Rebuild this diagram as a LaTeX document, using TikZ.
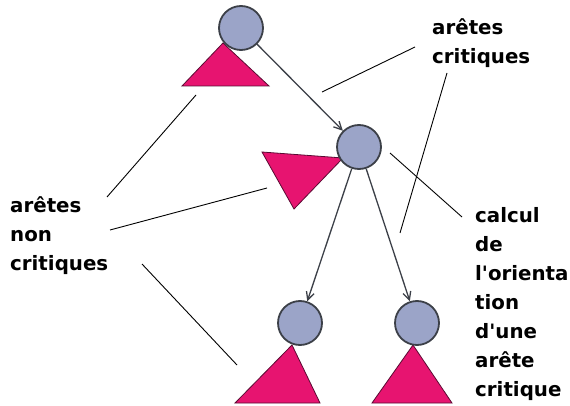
\documentclass[tikz,border=0pt]{standalone}
\usepackage{fontspec}
\setmainfont{DejaVu Sans}[Ligatures=TeXOff]
\usetikzlibrary{arrows.meta}
\definecolor{nodeblue}{RGB}{155,164,200}
\definecolor{nodeedge}{RGB}{60,64,72}
\definecolor{trifill}{RGB}{231,20,112}
\definecolor{triedge}{RGB}{90,10,50}
\begin{document}
\begin{tikzpicture}[x=1pt,y=-1pt,
  vertex/.style={circle,draw=nodeedge,line width=1.8pt,fill=nodeblue,minimum size=44pt,inner sep=0pt},
  subtree/.style={fill=trifill,draw=triedge,line width=0.8pt,line join=miter},
  edge/.style={draw=nodeedge,line width=1.3pt,-{Straight Barb[length=8pt,width=8pt]}},
  callout/.style={draw=black,line width=0.9pt},
  lbl/.style={font=\fontsize{19.8}{29}\selectfont\bfseries,align=left,anchor=base west,inner sep=0pt}]
\useasboundingbox[fill=white] (0,0) rectangle (570,406);
% subtrees
\draw[subtree] (182,86) -- (269,86) -- (223,43) -- cycle;
\draw[subtree] (262,152) -- (343,158) -- (294,209) -- cycle;
\draw[subtree] (235,403) -- (320,403) -- (292,345) -- cycle;
\draw[subtree] (372,403) -- (452,403) -- (413,345) -- cycle;
% vertices
\node[vertex] (r) at (241,28) {};
\node[vertex] (m) at (359,147) {};
\node[vertex] (bl) at (300,323) {};
\node[vertex] (br) at (417,323) {};
% edges
\draw[edge] (r) -- (m);
\draw[edge] (m) -- (bl);
\draw[edge] (m) -- (br);
% labels (anchor at the baseline of the last line)
\node[lbl] (crit) at (432,64) {arêtes\\critiques};
\node[lbl] (noncrit) at (10,270) {arêtes\\non\\critiques};
\node[lbl] (calc) at (475,396) {calcul\\de\\l'orienta\\tion\\d'une\\arête\\critique};
% callout lines
\coordinate (c1a) at (322,92);  \coordinate (c1b) at (415,47);
\coordinate (c2a) at (447,73);  \coordinate (c2b) at (400,233);
\coordinate (c3a) at (107,197); \coordinate (c3b) at (196,95);
\coordinate (c4a) at (110,230); \coordinate (c4b) at (267,188);
\coordinate (c5a) at (142,264); \coordinate (c5b) at (237,365);
\coordinate (c6a) at (390,153); \coordinate (c6b) at (462,217);
\draw[callout] (c1a) -- (c1b);
\draw[callout] (c2a) -- (c2b);
\draw[callout] (c3a) -- (c3b);
\draw[callout] (c4a) -- (c4b);
\draw[callout] (c5a) -- (c5b);
\draw[callout] (c6a) -- (c6b);
\end{tikzpicture}
\end{document}
